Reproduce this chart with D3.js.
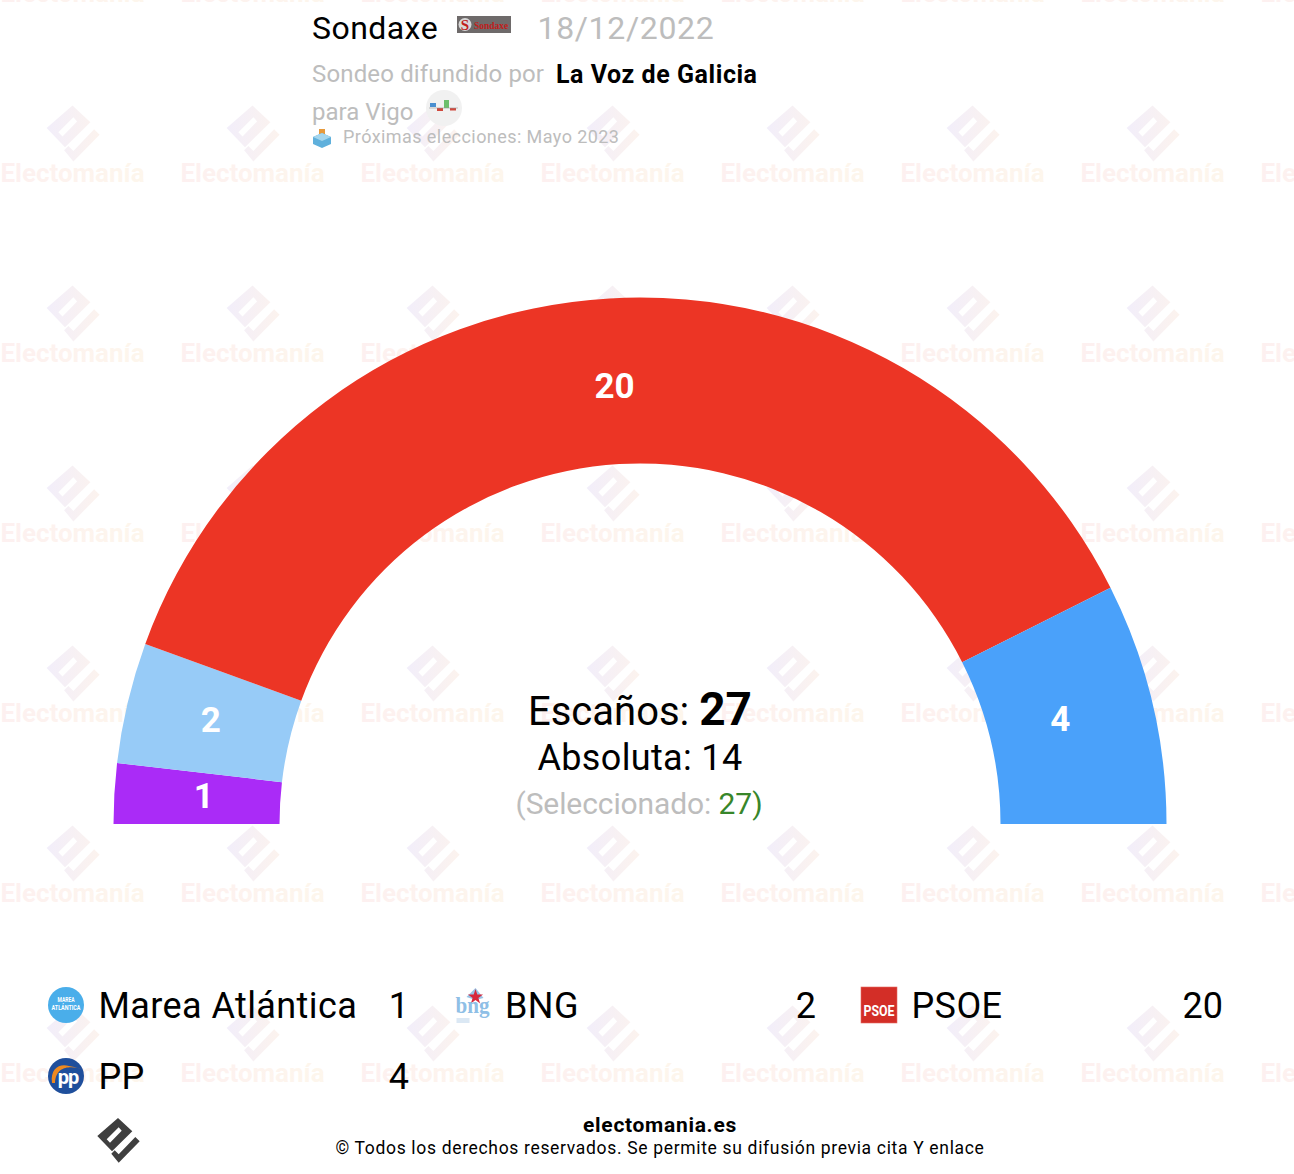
<!DOCTYPE html>
<html>
<head>
<meta charset="utf-8">
<title>Sondaxe 18/12/2022</title>
<script src="https://cdn.jsdelivr.net/npm/d3@7"></script>
<style>
  html, body { margin: 0; padding: 0; background: #fff; }
  svg { display: block; font-family: Roboto, sans-serif; }
</style>
</head>
<body>
<div id="chart"></div>
<script>
const width = 1294;
const height = 1174;

// data
const parties = ["Marea Atlántica", "BNG", "PSOE", "PP"];
const seats = [1, 2, 20, 4];
const colors = ["#aa2bf7", "#97cbf7", "#ec3525", "#4aa1fa"];
const totalSeats = 27;
const majority = 14;
const selected = 27;

const svg = d3.select("#chart").append("svg")
    .attr("width", width)
    .attr("height", height);

const defs = svg.append("defs");

function gradient(id, from, to) {
  const g = defs.append("linearGradient").attr("id", id);
  g.append("stop").attr("offset", "0%").attr("stop-color", from);
  g.append("stop").attr("offset", "100%").attr("stop-color", to);
}
gradient("wmText", "#fdf0f0", "#fdf6ec");
gradient("wmLogo", "#f2eefa", "#fcf3ee");

// logo outline, relative to its centre
const logoBody = "M0,-22L14.3,-8.7L-6,11.3L-20.7,-4Z M0.7,-12.7L-11.3,-0.7L-8,2.7L3.7,-9.3Z";
const logoHook = "M-6.7,13.7L-3.3,10.3L0.7,14.3L17.3,-3L21.7,1.3L0.7,22.7Z";

function drawLogo(parent, x, y, fill, scale) {
  const l = parent.append("g").attr("transform", `translate(${x},${y}) scale(${scale})`);
  l.append("path").attr("d", logoBody + logoHook).attr("fill", fill).attr("fill-rule", "evenodd");
}

// watermark
const wm = svg.append("g");
d3.range(-1, 7).forEach(r => {
  d3.range(0, 8).forEach(c => {
    const x = 73 + c * 180;
    const y = 133 + r * 180;
    drawLogo(wm, x - 0.5, y, "url(#wmLogo)", 1.25);
    wm.append("text")
        .attr("x", x - 0.5).attr("y", y + 49)
        .attr("text-anchor", "middle")
        .attr("font-size", 26).attr("font-weight", 700)
        .attr("fill", "url(#wmText)")
        .text("Electomanía");
  });
});

// hemicycle
const cx = 640, cy = 824;
const pie = d3.pie().sort(null)
    .startAngle(-Math.PI / 2).endAngle(Math.PI / 2);
const arc = d3.arc().innerRadius(360.5).outerRadius(526.5);
const labelArc = d3.arc().innerRadius(438).outerRadius(438);
const labelNudge = [[1, -3], [-3, -4], [0, -1], [-6, -5]];
const arcs = pie(seats);

const gauge = svg.append("g").attr("transform", `translate(${cx},${cy})`);
gauge.selectAll("path")
    .data(arcs)
    .join("path")
    .attr("d", arc)
    .attr("fill", (d, i) => colors[i]);

gauge.selectAll("text")
    .data(arcs)
    .join("text")
    .attr("transform", (d, i) => {
      const [x, y] = labelArc.centroid(d);
      return `translate(${x + labelNudge[i][0]},${y + labelNudge[i][1]})`;
    })
    .attr("text-anchor", "middle")
    .attr("dy", "0.36em")
    .attr("font-size", 35).attr("font-weight", 700)
    .attr("fill", "#fff")
    .text(d => d.data);

// centre text
const t1 = svg.append("text").attr("x", 640).attr("y", 725)
    .attr("text-anchor", "middle").attr("font-size", 40).attr("fill", "#000");
t1.append("tspan").text("Escaños: ");
t1.append("tspan").attr("font-weight", 700).attr("font-size", 46).text(totalSeats);

svg.append("text").attr("x", 640).attr("y", 770)
    .attr("text-anchor", "middle").attr("font-size", 36).attr("letter-spacing", 0.35).attr("fill", "#000")
    .text(`Absoluta: ${majority}`);

const t3 = svg.append("text").attr("x", 639).attr("y", 814)
    .attr("text-anchor", "middle").attr("font-size", 30).attr("letter-spacing", -0.1).attr("fill", "#bdbdbd");
t3.append("tspan").text("(Seleccionado: ");
t3.append("tspan").attr("fill", "#38862a").text(selected);
t3.append("tspan").attr("fill", "#38862a").text(")");

// header
svg.append("text").attr("x", 312).attr("y", 39)
    .attr("font-size", 32).attr("letter-spacing", 0.45).attr("fill", "#000").text("Sondaxe");
svg.append("text").attr("x", 537.5).attr("y", 39)
    .attr("font-size", 32).attr("fill", "#bdbdbd").attr("letter-spacing", 0.65).text("18/12/2022");

const sondaxe = svg.append("g").attr("transform", "translate(457,16)");
sondaxe.append("rect").attr("width", 54).attr("height", 17).attr("fill", "#6e6a6a");
sondaxe.append("circle").attr("cx", 8).attr("cy", 8.5).attr("r", 6.5).attr("fill", "#d8d8d8");
sondaxe.append("text").attr("x", 8).attr("y", 14).attr("text-anchor", "middle")
    .attr("font-size", 15).attr("font-family", "'Liberation Serif', serif").attr("font-weight", 700)
    .attr("fill", "#c0201c").text("S");
sondaxe.append("text").attr("x", 17).attr("y", 12.5)
    .attr("font-size", 9.5).attr("font-family", "'Liberation Serif', serif").attr("font-weight", 700)
    .attr("fill", "#c0201c").text("Sondaxe");

svg.append("text").attr("x", 312).attr("y", 82)
    .attr("font-size", 24).attr("letter-spacing", 0.15).attr("fill", "#bdbdbd").text("Sondeo difundido por");
svg.append("text").attr("x", 556).attr("y", 83)
    .attr("font-size", 25).attr("letter-spacing", 0.55).attr("font-weight", 700).attr("fill", "#000").text("La Voz de Galicia");
svg.append("text").attr("x", 312).attr("y", 120)
    .attr("font-size", 24).attr("fill", "#bdbdbd").text("para Vigo");

const vigo = svg.append("g").attr("transform", "translate(444,108)");
vigo.append("circle").attr("r", 18).attr("fill", "#f1f1f1");
vigo.append("rect").attr("x", -14).attr("y", -5).attr("width", 6).attr("height", 4).attr("fill", "#4a8fd0");
vigo.append("rect").attr("x", -7).attr("y", 0).attr("width", 6).attr("height", 3).attr("fill", "#d0483c");
vigo.append("rect").attr("x", 0).attr("y", -8).attr("width", 5).attr("height", 8).attr("fill", "#6cbf6c");
vigo.append("rect").attr("x", 6).attr("y", 0).attr("width", 6).attr("height", 2.5).attr("fill", "#d0483c");
vigo.append("line").attr("x1", -15).attr("x2", 14).attr("y1", 0).attr("y2", 0).attr("stroke", "#999").attr("stroke-width", 0.6);

// ballot box
const box = svg.append("g").attr("transform", "translate(322,139)");
box.append("rect").attr("x", -3).attr("y", -10).attr("width", 6).attr("height", 6).attr("fill", "#e79a3c");
box.append("path").attr("d", "M0,-6L9,-2V5L0,9L-9,5V-2Z").attr("fill", "#5fb0dc");
box.append("path").attr("d", "M0,-6L9,-2L0,2L-9,-2Z").attr("fill", "#a4d6ee");

svg.append("text").attr("x", 343).attr("y", 143)
    .attr("font-size", 18).attr("letter-spacing", 0.43).attr("fill", "#bdbdbd").text("Próximas elecciones: Mayo 2023");

// legend
const legendX = d3.scalePoint().domain(d3.range(3)).range([66, 879]);
const legendValueX = d3.scalePoint().domain(d3.range(3)).range([409, 1223]);
const rowY = [1005, 1076];

parties.forEach((name, i) => {
  const col = i % 3, row = Math.floor(i / 3);
  const x = legendX(col), y = rowY[row];
  const icon = svg.append("g").attr("transform", `translate(${x},${y})`);
  drawIcon(icon, name);
  svg.append("text").attr("x", x + 32.5).attr("y", y + 13)
      .attr("font-size", 36).attr("letter-spacing", 0.4).attr("fill", "#000").text(name);
  svg.append("text").attr("x", legendValueX(col)).attr("y", y + 13)
      .attr("text-anchor", "end").attr("font-size", 36).attr("fill", "#000").text(seats[i]);
});

function drawIcon(g, name) {
  if (name === "Marea Atlántica") {
    g.append("circle").attr("r", 18).attr("fill", "#4aaeea");
    g.append("text").attr("y", -3).attr("text-anchor", "middle")
        .attr("font-size", 7.5).attr("font-weight", 700).attr("textLength", 17).attr("lengthAdjust", "spacingAndGlyphs")
        .attr("fill", "#fff").text("MAREA");
    g.append("text").attr("y", 5).attr("text-anchor", "middle")
        .attr("font-size", 7.5).attr("font-weight", 700).attr("textLength", 29).attr("lengthAdjust", "spacingAndGlyphs")
        .attr("fill", "#fff").text("ATLÁNTICA");
  } else if (name === "BNG") {
    g.append("path").attr("d", "M-6,-8L3,-17L7,-12L11,-7L3,-5Z").attr("fill", "#97c3e6");
    g.append("path").attr("d", d3.symbol(d3.symbolStar, 70)()).attr("transform", "translate(3,-8)").attr("fill", "#d8283c");
    g.append("text").attr("y", 8).attr("text-anchor", "middle")
        .attr("font-size", 23).attr("font-weight", 700).attr("font-family", "'Liberation Serif', serif")
        .attr("textLength", 34).attr("lengthAdjust", "spacingAndGlyphs")
        .attr("fill", "#8fbfe6").text("bng");
    g.append("rect").attr("x", -16).attr("y", 13).attr("width", 13).attr("height", 5).attr("fill", "#dbe8f4");
  } else if (name === "PSOE") {
    g.append("rect").attr("x", -18).attr("y", -18).attr("width", 36).attr("height", 36)
        .attr("fill", "#d32e27").attr("stroke", "#e46a62").attr("stroke-width", 0.6);
    g.append("text").attr("y", 11).attr("text-anchor", "middle")
        .attr("font-size", 14.5).attr("font-weight", 700).attr("textLength", 31).attr("lengthAdjust", "spacingAndGlyphs")
        .attr("fill", "#fff").text("PSOE");
  } else {
    g.append("circle").attr("r", 18).attr("fill", "#1f4f9c");
    g.append("path").attr("d", "M-14,7C-16,-8 -6,-13 3,-10C9,-9 12,-8 16,-7C9,-9 -10,-13 -11,7Z").attr("fill", "#ee8a20");
    g.append("text").attr("x", 2).attr("y", 8).attr("text-anchor", "middle")
        .attr("font-size", 20).attr("font-weight", 700).attr("letter-spacing", -1).attr("fill", "#fff").text("pp");
  }
}

// footer
drawLogo(svg, 118, 1140, "#3f3f3f", 1);
svg.append("text").attr("x", 660).attr("y", 1132)
    .attr("text-anchor", "middle").attr("font-size", 21).attr("letter-spacing", 0.7).attr("font-weight", 700).attr("fill", "#000")
    .text("electomania.es");
svg.append("text").attr("x", 660).attr("y", 1154)
    .attr("text-anchor", "middle").attr("font-size", 17.5).attr("letter-spacing", 0.67).attr("fill", "#000")
    .text("© Todos los derechos reservados. Se permite su difusión previa cita Y enlace");
</script>
</body>
</html>
